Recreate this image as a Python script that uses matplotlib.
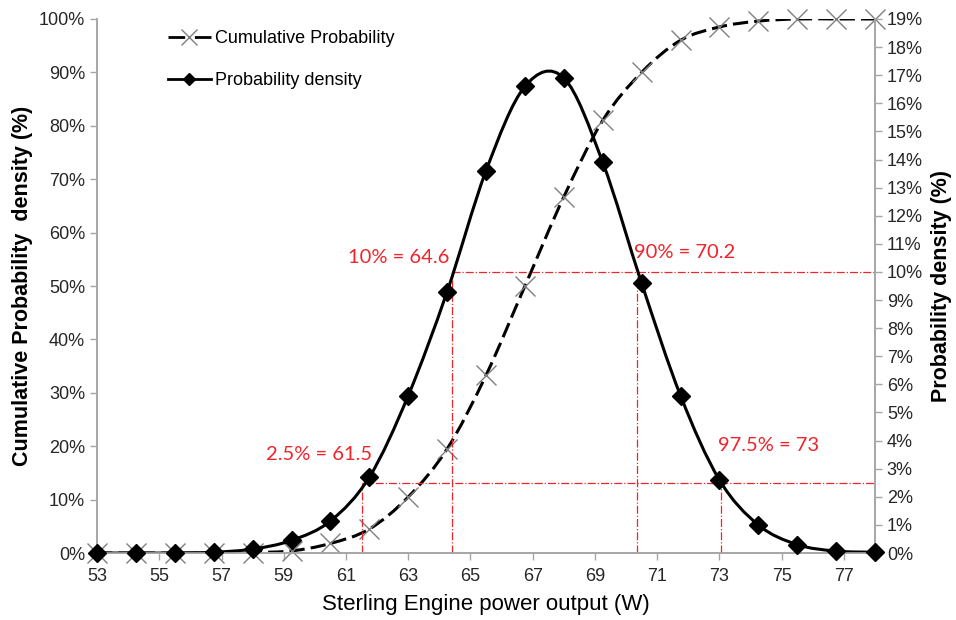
import matplotlib
matplotlib.use('Agg')
import matplotlib.pyplot as plt
from matplotlib.path import Path
from matplotlib.patches import PathPatch
from matplotlib.lines import Line2D
import numpy as np

plt.rcParams['font.family'] = ['Liberation Sans', 'DejaVu Sans']

# data
power = [53, 54.25, 55.5, 56.75, 58, 59.25, 60.5, 61.75, 63, 64.25, 65.5,
         66.75, 68, 69.25, 70.5, 71.75, 73, 74.25, 75.5, 76.75, 78]
cumulative = [0, 0, 0, 0, 0.1, 0.4, 1.8, 4.5, 10.5, 19.5, 33.3,
              50, 66.7, 81, 90, 96, 98.5, 99.6, 100, 100, 100]
density = [0, 0, 0, 0.03, 0.14, 0.45, 1.14, 2.7, 5.6, 9.3, 13.6,
           16.6, 16.9, 13.9, 9.6, 5.6, 2.6, 1.0, 0.3, 0.07, 0.03]

x_ticks = list(range(53, 78, 2))
left_ticks = list(range(0, 101, 10))
right_ticks = list(range(0, 20))

# percentile markers (x value, density level) and their labels
pct_x = [61.5, 64.4, 70.35, 73.05]
pct_level = [2.5, 10, 10, 2.5]
pct_labels = ['2.5% = 61.5', '10% = 64.6', '90% = 70.2', '97.5% = 73']
label_pos = [(58.43, 3.49), (61.07, 10.53), (70.27, 10.68), (72.97, 3.84)]


def smooth_path(xs, ys):
    # Excel style smoothed line: Catmull-Rom segments as cubic Beziers
    p = np.column_stack([xs, ys]).astype(float)
    ext = np.vstack([p[0], p, p[-1]])
    verts = [p[0]]
    codes = [Path.MOVETO]
    for i in range(len(p) - 1):
        p0, p1, p2, p3 = ext[i], ext[i + 1], ext[i + 2], ext[i + 3]
        c1 = p1 + (p2 - p0) / 6
        c2 = p2 - (p3 - p1) / 6
        verts += [c1, c2, p2]
        codes += [Path.CURVE4] * 3
    return Path(verts, codes)


fig = plt.figure(figsize=(9.56, 6.2), dpi=100)
ax = fig.add_axes([0.1015, 0.108, 0.8138, 0.8614])
ax2 = ax.twinx()

red = '#f0242b'
grey = '#a6a6a6'
dash = (0, (5, 2))

# cumulative (left axis)
ax.add_patch(PathPatch(smooth_path(power, cumulative), fill=False, ec='black',
                       lw=2.2, ls=dash, zorder=2))
ax.plot(power, cumulative, ls='none', marker='x', ms=15, mec='#7f7f7f',
        mew=1.0, zorder=3, clip_on=False)

# density (right axis)
ax2.add_patch(PathPatch(smooth_path(power, density), fill=False, ec='black',
                        lw=2.2, zorder=2))
ax2.plot(power, density, ls='none', marker='D', ms=9, color='black',
         zorder=3, clip_on=False)

# percentile guides
for xv, lv in zip(pct_x, pct_level):
    ax2.plot([xv, xv], [0, lv], color=red, lw=0.9, ls='-.', zorder=1)
for xv, lv in zip(pct_x[:2], pct_level[:2]):
    ax2.plot([xv, 78], [lv, lv], color=red, lw=0.9, ls='-.', zorder=1)
for (tx, ty), txt in zip(label_pos, pct_labels):
    ax2.text(tx, ty, txt, color=red, fontsize=14.5, va='center', ha='left',
             family=['Lato', 'DejaVu Sans'])

ax.set_xlim(53, 78)
ax.set_ylim(0, 100)
ax2.set_ylim(0, 19)
ax.set_xticks(x_ticks)
ax.set_yticks(left_ticks)
ax.set_yticklabels([f'{v}%' for v in left_ticks])
ax2.set_yticks(right_ticks)
ax2.set_yticklabels([f'{v}%' for v in right_ticks])

for a in (ax, ax2):
    a.spines['top'].set_visible(False)
    for s in ('left', 'right', 'bottom'):
        a.spines[s].set_color(grey)
        a.spines[s].set_linewidth(1.2)
    a.tick_params(colors=grey, labelcolor='#262626', labelsize=13,
                  length=5, width=1)
ax.tick_params(axis='x', pad=6)

ax.set_xlabel('Sterling Engine power output (W)', fontsize=16, labelpad=6)
ax.set_ylabel('Cumulative Probability  density (%)', fontsize=15.5,
              fontweight='bold', labelpad=4)
ax2.set_ylabel('Probability density (%)', fontsize=15.5, fontweight='bold',
               labelpad=6)

handles = [
    Line2D([], [], color='black', lw=2, ls=(0, (6, 3.5)), marker='x',
           ms=12, mec='#7f7f7f', mew=1.0),
    Line2D([], [], color='black', lw=2, marker='D', ms=6),
]
ax2.legend(handles, ['Cumulative Probability', 'Probability density'],
           loc='upper left', bbox_to_anchor=(0.07, 1.01), frameon=False,
           fontsize=13, handlelength=2.4, handletextpad=0.2, labelspacing=1.4,
           numpoints=1)

fig.savefig('out.png', dpi=100)
